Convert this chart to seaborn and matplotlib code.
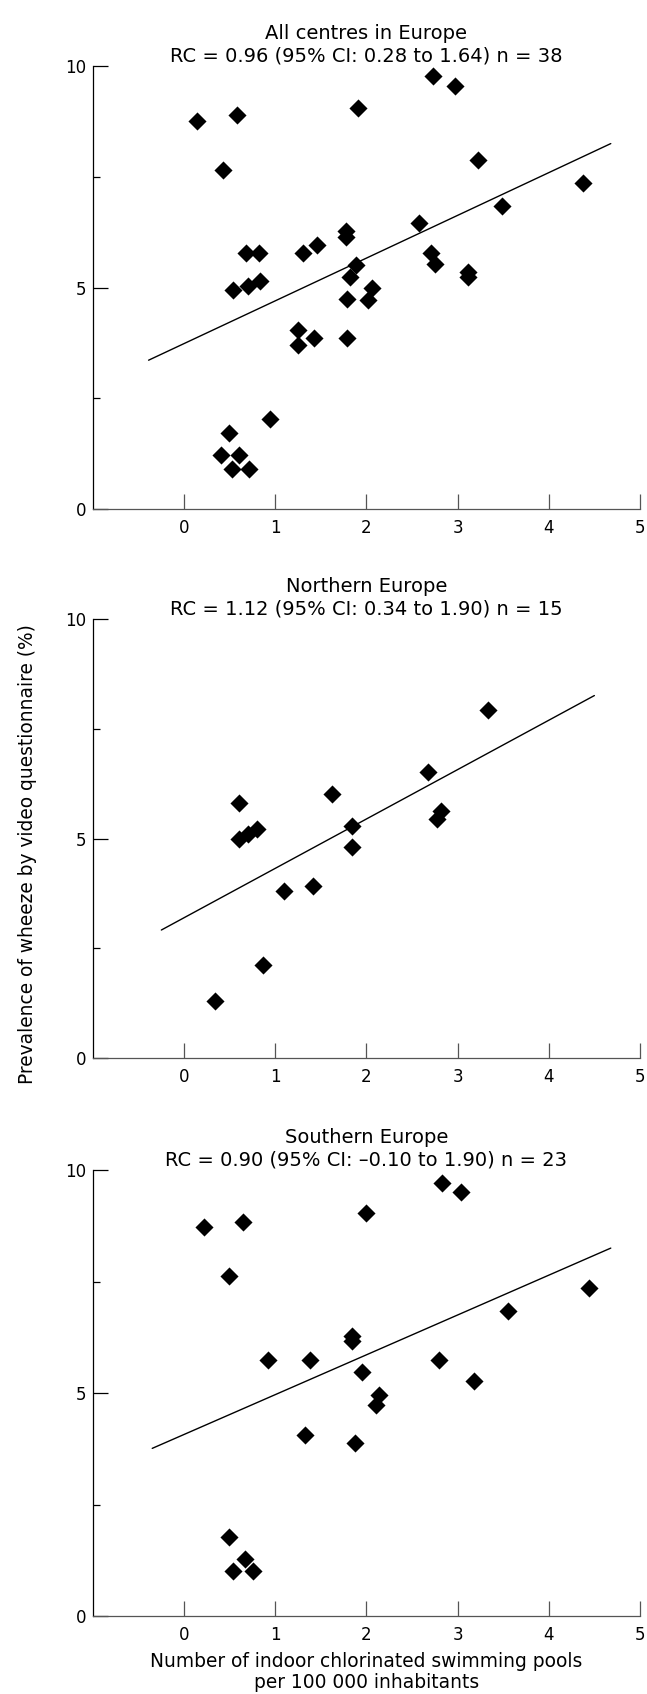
import numpy as np
import pandas as pd
import seaborn as sns
import matplotlib.pyplot as plt
from matplotlib.ticker import FixedLocator

# data
all_x = [0.14, 0.58, 0.43, 1.91, 2.73, 2.97, 3.22, 4.37, 3.49, 2.58,
         1.78, 1.78, 1.46, 1.30, 0.68, 0.82, 2.71, 2.75, 1.88, 1.82,
         0.54, 0.70, 0.83, 2.06, 2.02, 1.79, 3.11, 3.11, 1.25, 1.25,
         1.42, 1.79, 0.94, 0.49, 0.40, 0.60, 0.53, 0.71]
all_y = [8.76, 8.89, 7.66, 9.06, 9.77, 9.55, 7.89, 7.37, 6.84, 6.46,
         6.27, 6.13, 5.97, 5.78, 5.78, 5.78, 5.77, 5.53, 5.51, 5.24,
         4.94, 5.03, 5.15, 5.00, 4.71, 4.75, 5.35, 5.23, 4.05, 3.70,
         3.85, 3.85, 2.04, 1.71, 1.23, 1.23, 0.90, 0.90]

north_x = [3.33, 2.67, 1.62, 0.60, 2.82, 2.77, 1.84, 1.84, 0.60, 0.70,
           0.80, 1.10, 1.41, 0.86, 0.34]
north_y = [7.93, 6.51, 6.01, 5.82, 5.64, 5.44, 5.30, 4.81, 5.00, 5.11,
           5.23, 3.81, 3.93, 2.12, 1.30]

south_x = [0.22, 0.65, 0.49, 2.00, 2.83, 3.04, 4.44, 3.55, 1.84, 1.84,
           0.92, 1.38, 2.80, 1.95, 3.18, 2.14, 2.10, 1.33, 1.87, 0.49,
           0.67, 0.54, 0.75]
south_y = [8.73, 8.83, 7.63, 9.03, 9.72, 9.51, 7.35, 6.85, 6.27, 6.16,
           5.75, 5.75, 5.75, 5.47, 5.28, 4.96, 4.74, 4.06, 3.88, 1.78,
           1.29, 1.02, 1.02]

# regression line end points
all_line_x = [-0.39, 4.68]
all_line_y = [3.36, 8.25]
north_line_x = [-0.25, 4.50]
north_line_y = [2.92, 8.26]
south_line_x = [-0.35, 4.68]
south_line_y = [3.76, 8.25]

titles = [
    "All centres in Europe\nRC = 0.96 (95% CI: 0.28 to 1.64) n = 38",
    "Northern Europe\nRC = 1.12 (95% CI: 0.34 to 1.90) n = 15",
    "Southern Europe\nRC = 0.90 (95% CI: \u20130.10 to 1.90) n = 23",
]
x_ticks = [0, 1, 2, 3, 4, 5]
y_ticks = [0, 5, 10]
y_minor = [2.5, 7.5]

sns.set_style("ticks")
plt.rcParams['font.family'] = ['DejaVu Sans']
plt.rcParams['text.color'] = 'black'
plt.rcParams['axes.labelcolor'] = 'black'
plt.rcParams['xtick.labelcolor'] = 'black'
plt.rcParams['ytick.labelcolor'] = 'black'

fig = plt.figure(figsize=(6.47, 16.94), dpi=100)

# axes boxes (left, bottom, width, height) in figure fraction
boxes = [
    (0.1437, 0.6995, 0.8454, 0.2615),
    (0.1437, 0.3753, 0.8454, 0.2592),
    (0.1437, 0.0460, 0.8454, 0.2633),
]
sets = [
    (all_x, all_y, all_line_x, all_line_y),
    (north_x, north_y, north_line_x, north_line_y),
    (south_x, south_y, south_line_x, south_line_y),
]

for i, (box, (xs, ys, lx, ly)) in enumerate(zip(boxes, sets)):
    ax = fig.add_axes(box)
    df = pd.DataFrame({'x': xs, 'y': ys})
    sns.scatterplot(data=df, x='x', y='y', marker='D', s=85, color='black',
                    linewidth=0, ax=ax, zorder=3, clip_on=False)
    sns.lineplot(x=lx, y=ly, color='black', linewidth=1.0, ax=ax)

    ax.set_xlim(-1, 5)
    ax.set_ylim(0, 10)
    ax.set_xticks(x_ticks)
    ax.set_yticks(y_ticks)
    ax.yaxis.set_minor_locator(FixedLocator(y_minor))
    ax.tick_params(axis='x', direction='in', length=10.8, width=0.9,
                   color='#555555', labelcolor='black', labelsize=12, pad=7)
    ax.tick_params(axis='y', which='major', direction='in', length=10.8,
                   width=0.9, color='black', labelcolor='black',
                   labelsize=12, pad=5)
    ax.tick_params(axis='y', which='minor', direction='in', length=5.3,
                   width=0.9, color='black')
    sns.despine(ax=ax)
    ax.spines['left'].set_linewidth(0.9)
    ax.spines['left'].set_color('black')
    ax.spines['bottom'].set_linewidth(0.9)
    ax.spines['bottom'].set_color('#555555')
    ax.set_xlabel('')
    ax.set_ylabel('')
    ax.set_title(titles[i], fontsize=14, pad=3, linespacing=1.25,
                 color='black')

ax.set_xlabel("Number of indoor chlorinated swimming pools\nper 100 000 inhabitants",
              fontsize=13.4, labelpad=6, linespacing=1.15, color='black')
fig.text(0.042, 0.496, "Prevalence of wheeze by video questionnaire (%)",
         rotation=90, ha='center', va='center', fontsize=13.4, color='black')

fig.savefig('out.png', dpi=100)
